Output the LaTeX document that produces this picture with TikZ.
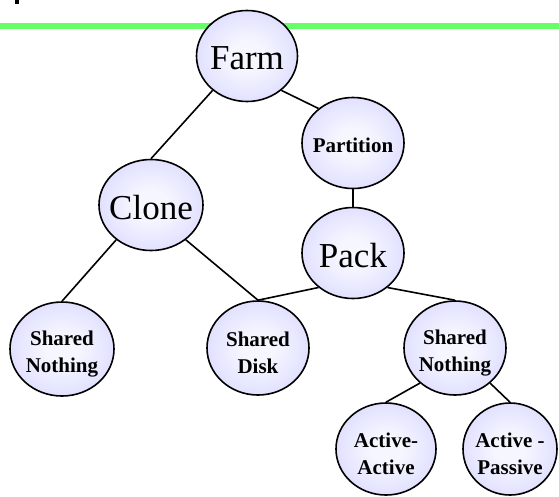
\documentclass[tikz,border=0pt]{standalone}
\usepackage{fontspec}
\setmainfont{Liberation Serif}
\usetikzlibrary{shapes.geometric}
\definecolor{rulegreen}{RGB}{102,255,102}
\definecolor{ballin}{RGB}{246,246,255}
\definecolor{ballout}{RGB}{194,194,255}
\pgfdeclareradialshading{ballshade}{\pgfpointorigin}{color(0bp)=(ballin); color(8bp)=(ballin); color(50bp)=(ballout)}
\tikzset{
  treenode/.style={ellipse, draw=black, line width=1.6pt, shading=ballshade,
    inner sep=0pt},
  bigtext/.style={inner sep=0pt, yshift=-2.5pt, font=\fontsize{35}{40}\selectfont},
  smalltext/.style={inner sep=0pt, align=center, yshift=-5pt,
    font=\bfseries\fontsize{21}{27}\selectfont},
  onetext/.style={smalltext, yshift=3pt},
  link/.style={line width=1.6pt, black},
}
\begin{document}
\begin{tikzpicture}[x=1pt,y=-1pt]
  \useasboundingbox (0,0) rectangle (559,496);
  % bullet remnant and green rule across the top
  \fill[black] (15,0) rectangle (19,3.5);
  \draw[rulegreen, line width=6pt] (0,26) -- (559,26);

  % tree nodes
  \node[treenode, minimum width=101pt, minimum height=91pt,
        label={[bigtext]center:Farm}] (farm) at (247,56) {};
  \node[treenode, minimum width=102pt, minimum height=91pt,
        label={[onetext]center:Partition}] (partition) at (353,143) {};
  \node[treenode, minimum width=102pt, minimum height=91pt,
        label={[bigtext]center:Pack}] (pack) at (353,253) {};
  \node[treenode, minimum width=104pt, minimum height=91pt,
        label={[bigtext]center:Clone}] (clone) at (151,205) {};
  \node[treenode, minimum width=104pt, minimum height=94pt,
        label={[smalltext]center:{Shared\\Nothing}}] (snl) at (62,349) {};
  \node[treenode, minimum width=102pt, minimum height=94pt,
        label={[smalltext]center:{Shared\\Disk}}] (sd) at (258,348) {};
  \node[treenode, minimum width=102pt, minimum height=94pt,
        label={[smalltext]center:{Shared\\Nothing}}] (snr) at (455,348) {};
  \node[treenode, minimum width=100pt, minimum height=92pt,
        label={[smalltext]center:{Active-\\Active}}] (aa) at (386,449) {};
  \node[treenode, minimum width=94pt, minimum height=92pt,
        label={[smalltext]center:{Active -\\Passive}}] (ap) at (510,449) {};

  % connectors
  \draw[link] (farm.225) -- (clone.north);
  \draw[link] (farm.-45) -- (partition.135);
  \draw[link] (partition.south) -- (pack.north);
  \draw[link] (clone.225) -- (snl.north);
  \draw[link] (clone.-45) -- (sd.north);
  \draw[link] (pack.225) -- (sd.north);
  \draw[link] (pack.-45) -- (snr.north);
  \draw[link] (snr.225) -- (aa.north);
  \draw[link] (snr.-45) -- (ap.north);
\end{tikzpicture}
\end{document}
